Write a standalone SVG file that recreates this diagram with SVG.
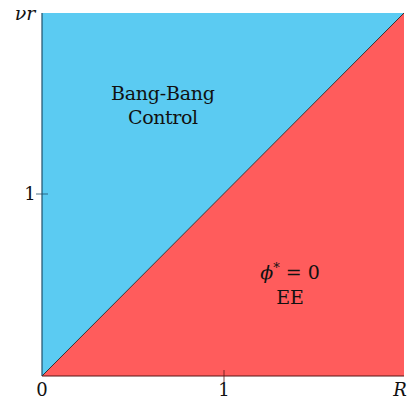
<svg xmlns="http://www.w3.org/2000/svg" width="413" height="403" viewBox="0 0 413 403">
<style>
.t{font-family:"DejaVu Serif",serif;font-size:19px;fill:#111}
.s{font-size:18px}
.i{font-style:italic}
</style>
<rect width="413" height="403" fill="#fff"/>
<g id="bangbang-region">
<polygon points="42,13 404,13 42,376" fill="#5BCBF2"/>
<text class="t" x="163" y="100" text-anchor="middle" textLength="104" lengthAdjust="spacing">Bang-Bang</text>
<text class="t" x="163" y="124" text-anchor="middle" textLength="70" lengthAdjust="spacing">Control</text>
</g>
<g id="ee-region">
<polygon points="404,13 404,376 42,376" fill="#FF5C5C"/>
<text class="t" x="290" y="279" text-anchor="middle"><tspan class="i">ϕ</tspan><tspan dy="-7" font-size="13">*</tspan><tspan dy="7"> = 0</tspan></text>
<text class="t" x="290" y="304" text-anchor="middle">EE</text>
</g>
<g id="connectors">
<line x1="42" y1="376" x2="404" y2="13" stroke="#333" stroke-width="1"/>
<line x1="42" y1="13" x2="42" y2="376" stroke="#1f4f6a" stroke-width="1.2"/>
<line x1="42" y1="376" x2="404" y2="376" stroke="#5a1515" stroke-width="1.2"/>
<line x1="36" y1="194" x2="48" y2="194" stroke="#1f4f6a" stroke-width="0.8"/>
<line x1="224" y1="370" x2="224" y2="382" stroke="#5a1515" stroke-width="0.8"/>
</g>
<g id="labels">
<text class="t i" x="25" y="20" text-anchor="middle">νr</text>
<text class="t s" x="30" y="200" text-anchor="middle">1</text>
<text class="t s" x="42" y="396" text-anchor="middle">0</text>
<text class="t s" x="224" y="396" text-anchor="middle">1</text>
<text class="t s i" x="400" y="396" text-anchor="middle">R</text>
</g>
</svg>
